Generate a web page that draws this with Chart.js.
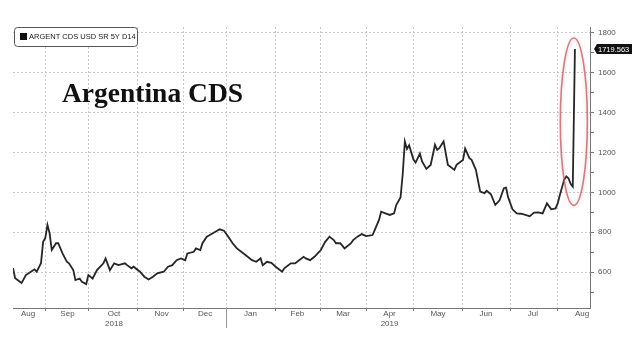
<!DOCTYPE html>
<html>
<head>
<meta charset="utf-8">
<script src="https://cdn.jsdelivr.net/npm/chart.js@4.4.1/dist/chart.umd.min.js"></script>
<style>
  html, body { margin: 0; padding: 0; background: #fff; }
  #wrap { position: relative; width: 641px; height: 343px; }
</style>
</head>
<body>
<div id="wrap"><canvas id="cdsChart"></canvas></div>
<script>
// trading-day index (0 = around 10 Aug 2018) and the 5y CDS level
const dayIdx = [0, 1, 4, 6, 9, 10, 11, 13, 14, 15, 16, 17, 18, 20, 21, 23, 25, 26, 28, 29,
  31, 32, 34, 35, 37, 39, 42, 43, 45, 47, 49, 52, 53, 55, 56, 59, 61, 63, 65, 67,
  70, 72, 74, 76, 78, 80, 81, 84, 85, 87, 88, 90, 91, 94, 96, 98, 100, 102, 104, 106,
  108, 111, 113, 115, 116, 118, 120, 122, 125, 126, 129, 131, 132, 135, 136, 138, 140, 143, 145, 147,
  149, 150, 152, 154, 157, 158, 160, 162, 164, 167, 168, 170, 171, 173, 175, 177, 178, 180, 181, 182,
  183, 184, 186, 187, 189, 190, 192, 194, 196, 197, 198, 200, 202, 203, 205, 206, 209, 210, 212, 213,
  215, 217, 219, 220, 222, 224, 226, 228, 229, 230, 232, 234, 236, 238, 240, 242, 244, 246, 248, 250,
  252, 253, 254, 256, 257, 258, 259, 260, 261];
const cdsValues = [620, 570, 546, 585, 607, 614, 602, 645, 752, 771, 837, 795, 711, 745, 745, 694, 652, 644, 610, 560,
  568, 551, 540, 585, 568, 610, 644, 669, 610, 644, 635, 644, 635, 619, 627, 602, 577, 563, 577, 594,
  602, 627, 635, 660, 669, 660, 694, 702, 719, 711, 745, 778, 784, 803, 815, 808, 778, 745, 719, 702,
  686, 660, 652, 669, 635, 652, 647, 627, 602, 619, 644, 644, 652, 677, 669, 660, 677, 711, 752, 778,
  761, 745, 745, 719, 745, 761, 778, 791, 781, 786, 811, 862, 903, 895, 887, 895, 937, 975, 1090, 1256,
  1218, 1237, 1165, 1150, 1195, 1155, 1118, 1138, 1239, 1214, 1222, 1256, 1138, 1130, 1113, 1138, 1163, 1220, 1172, 1163,
  1113, 1004, 996, 1008, 990, 937, 960, 1021, 1024, 975, 915, 895, 893, 887, 880, 899, 900, 895, 945, 915,
  920, 945, 987, 1063, 1080, 1071, 1043, 1029, 1719.563];

// first trading day of each month, Sep 2018 .. Aug 2019
const monthStarts = [15, 35, 58, 79, 99, 122, 143, 164, 186, 209, 231, 253];
const yearBreak = 99; // Jan 2019
const monthLabelPos = [7, 25.3, 46.9, 69, 89.2, 110.3, 132.1, 153.3, 174.9, 197.4, 219.7, 241.5, 264.3];
const monthLabels = [['Aug'], ['Sep'], ['Oct', '2018'], ['Nov'], ['Dec'], ['Jan'], ['Feb'], ['Mar'],
  ['Apr', '2019'], ['May'], ['Jun'], ['Jul'], ['Aug']];

const yTicks = [500, 600, 700, 800, 900, 1000, 1100, 1200, 1300, 1400, 1500, 1600, 1700, 1800];
const yLabeled = [600, 800, 1000, 1200, 1400, 1600, 1800];

const seriesName = 'ARGENT CDS USD SR 5Y D14';
const chartTitle = 'Argentina CDS';
const lastValue = cdsValues[cdsValues.length - 1];

const gridGray = '#c9c9c9';
const axisGray = '#777';
const labelFont = { family: '"Liberation Sans", Arial, sans-serif', size: 8 };

const overlay = {
    id: 'overlay',
    afterDatasetsDraw(chart) {
        const { ctx, chartArea, scales: { x, y } } = chart;

        // red ring around the August jump
        const cx = x.getPixelForValue(260.5);
        const top = y.getPixelForValue(1775);
        const bot = y.getPixelForValue(935);
        ctx.save();
        ctx.beginPath();
        ctx.ellipse(cx, (top + bot) / 2, 13.5, (bot - top) / 2, 0, 0, Math.PI * 2);
        ctx.strokeStyle = 'rgba(190, 85, 95, 0.75)';
        ctx.lineWidth = 1.6;
        ctx.shadowColor = 'rgba(235, 140, 150, 0.6)';
        ctx.shadowBlur = 4;
        ctx.stroke();
        ctx.restore();

        // legend box, top left inside the plot
        ctx.save();
        ctx.beginPath();
        ctx.roundRect(14.5, 27.5, 123, 19, 3);
        ctx.fillStyle = '#fff';
        ctx.fill();
        ctx.strokeStyle = '#555';
        ctx.lineWidth = 1;
        ctx.stroke();
        ctx.fillStyle = '#111';
        ctx.fillRect(20, 33, 7, 7);
        ctx.font = '7.5px "Liberation Sans", Arial, sans-serif';
        ctx.fillStyle = '#222';
        ctx.textBaseline = 'middle';
        ctx.fillText(seriesName, 29, 37);
        ctx.restore();

        // big serif title
        ctx.save();
        ctx.font = 'bold 27.5px "Liberation Serif", "Times New Roman", serif';
        ctx.fillStyle = '#111';
        ctx.textBaseline = 'alphabetic';
        ctx.fillText(chartTitle, 62, 102);
        ctx.restore();
    },
    afterDraw(chart) {
        const { ctx, chartArea, scales: { x, y } } = chart;

        // year separator under the axis
        const xb = Math.round(x.getPixelForValue(yearBreak)) + 0.5;
        ctx.save();
        ctx.strokeStyle = '#999';
        ctx.lineWidth = 1;
        ctx.beginPath();
        ctx.moveTo(xb, chartArea.bottom);
        ctx.lineTo(xb, chartArea.bottom + 20);
        ctx.stroke();
        ctx.restore();

        // last value tag on the right axis
        const ty = y.getPixelForValue(lastValue);
        const tx = chartArea.right + 4;
        ctx.save();
        ctx.fillStyle = '#111';
        ctx.beginPath();
        ctx.moveTo(tx, ty);
        ctx.lineTo(tx + 3, ty - 5);
        ctx.lineTo(tx + 38, ty - 5);
        ctx.lineTo(tx + 38, ty + 5);
        ctx.lineTo(tx + 3, ty + 5);
        ctx.closePath();
        ctx.fill();
        ctx.fillStyle = '#fff';
        ctx.font = '7.5px "Liberation Sans", Arial, sans-serif';
        ctx.textBaseline = 'middle';
        ctx.fillText(lastValue.toFixed(3), tx + 4, ty + 0.5);
        ctx.restore();
    }
};

new Chart(document.getElementById('cdsChart'), {
    type: 'line',
    data: {
        datasets: [{
            label: seriesName,
            data: dayIdx.map((d, i) => ({ x: d, y: cdsValues[i] })),
            borderColor: '#262626',
            borderWidth: 1.8,
            pointRadius: 0,
            tension: 0,
            xAxisID: 'x',
            yAxisID: 'y'
        }]
    },
    options: {
        responsive: true,
        maintainAspectRatio: false,
        animation: false,
        layout: { padding: { left: 13, top: 27, right: 0, bottom: 0 } },
        plugins: {
            legend: { display: false },
            tooltip: { enabled: false }
        },
        scales: {
            x: {
                type: 'linear', min: 0, max: 268, position: 'bottom', weight: 1,
                afterBuildTicks: s => { s.ticks = monthStarts.map(v => ({ value: v })); },
                afterFit: s => { s.height = 1; },
                grid: { color: gridGray, tickColor: axisGray, tickLength: 3 },
                border: { color: axisGray, dash: [2, 2] },
                ticks: { display: false }
            },
            x2: {
                type: 'linear', min: 0, max: 268, position: 'bottom', weight: 2,
                afterBuildTicks: s => { s.ticks = monthLabelPos.map(v => ({ value: v })); },
                afterFit: s => { s.height = 34; },
                grid: { display: false, drawTicks: false },
                border: { display: false },
                ticks: {
                    autoSkip: false, maxRotation: 0, padding: 0,
                    font: labelFont, color: '#555',
                    callback: (v, i) => monthLabels[i]
                }
            },
            y: {
                type: 'linear', min: 420, max: 1830, position: 'right',
                afterBuildTicks: s => { s.ticks = yTicks.map(v => ({ value: v })); },
                afterFit: s => { s.width = 51; },
                grid: {
                    color: c => yLabeled.includes(c.tick.value) ? gridGray : 'rgba(0,0,0,0)',
                    tickColor: axisGray, tickLength: 4
                },
                border: { color: axisGray, dash: [2, 2] },
                ticks: {
                    padding: 4, font: labelFont, color: '#555',
                    callback: v => yLabeled.includes(v) ? String(v) : ''
                }
            }
        }
    },
    plugins: [overlay]
});
</script>
</body>
</html>
